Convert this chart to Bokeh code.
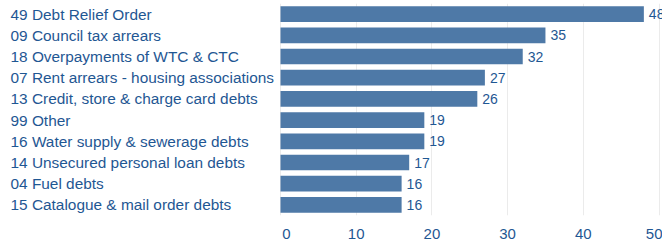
from bokeh.plotting import figure
from bokeh.models import ColumnDataSource, FactorRange, Range1d, FixedTicker
from bokeh.core.properties import value
from bokeh.embed import file_html
from bokeh.resources import INLINE

categories = [
    "49 Debt Relief Order",
    "09 Council tax arrears",
    "18 Overpayments of WTC & CTC",
    "07 Rent arrears -  housing associations",
    "13 Credit, store & charge card debts",
    "99 Other",
    "16 Water supply & sewerage debts",
    "14 Unsecured personal loan debts",
    "04 Fuel debts",
    "15 Catalogue & mail order debts",
]
values = [48, 35, 32, 27, 26, 19, 19, 17, 16, 16]
x_ticks = [0, 10, 20, 30, 40, 50]

BAR = "#4e79a7"
TXT = "#1f5793"
FONT = "Liberation Sans"

W, H = 662, 246
ZERO_PX = 280.0      # pixel where value 0 sits
PX_PER_UNIT = 7.57   # pixels per unit
x_start = -ZERO_PX / PX_PER_UNIT
x_end = (W - ZERO_PX) / PX_PER_UNIT

# first tick label is drawn flush (left-aligned) to the axis start, as in the original
FLUSH_PX = 6
first_label_pos = x_ticks[0] + FLUSH_PX / PX_PER_UNIT
label_ticks = [first_label_pos] + x_ticks[1:]

source = ColumnDataSource(dict(cat=categories, val=values, lbl=[str(v) for v in values]))

p = figure(
    width=W, height=H,
    y_range=FactorRange(factors=list(reversed(categories)), range_padding=0),
    x_range=Range1d(x_start, x_end),
    output_backend="svg", toolbar_location=None,
    min_border_left=0, min_border_right=0, min_border_top=3, min_border_bottom=31,
    margin=(0, 0, 0, 0),
)
p.outline_line_color = None
p.background_fill_color = "white"
p.border_fill_color = "white"

p.hbar(y="cat", right="val", left=0, height=0.74, source=source,
       fill_color=BAR, line_color=None)

p.yaxis.visible = False
p.ygrid.grid_line_color = None

xa = p.xaxis[0]
xa.ticker = FixedTicker(ticks=label_ticks)
xa.major_label_overrides = {first_label_pos: str(x_ticks[0])}
xa.axis_line_color = None
xa.major_tick_line_color = None
xa.minor_tick_line_color = None
xa.major_label_text_color = TXT
xa.major_label_text_font = FONT
xa.major_label_text_font_size = "15px"
xa.major_label_standoff = 7

p.xgrid.ticker = FixedTicker(ticks=x_ticks)
p.xgrid.grid_line_color = "#ebebeb"
p.xgrid.grid_line_width = 1

p.text(x=x_start, y="cat", text="cat", source=source, x_offset=10,
       text_align="left", text_baseline="middle",
       text_color=TXT, text_font=value(FONT), text_font_size="15.4px")
p.text(x="val", y="cat", text="lbl", source=source, x_offset=5,
       text_align="left", text_baseline="middle",
       text_color=TXT, text_font=value(FONT), text_font_size="14px")

open("out.html", "w").write(file_html(p, INLINE))
